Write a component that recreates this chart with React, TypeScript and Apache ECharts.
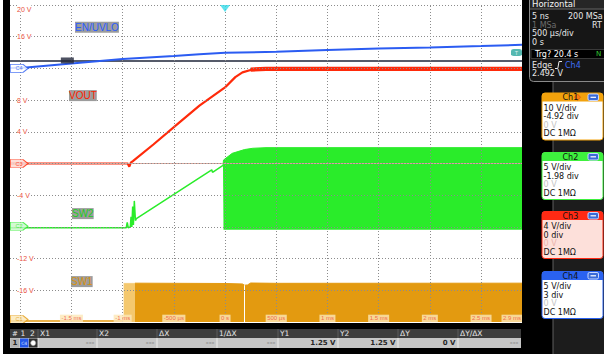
import React, { useEffect, useRef } from "react";
import * as echarts from "echarts";

// ---------- axis / screen settings ----------
const TIME_MIN = -2.1; // ms
const TIME_MAX = 2.9; // ms
const DIV_V = 4; // display axis is in Ch3 volts (4 V/div)

// ---------- channel settings ----------
const chNames = ["Ch1", "Ch2", "Ch3", "Ch4"];
const chScales = [10, 5, 4, 5];
const chOffsets = [-4.92, -1.98, 0, 3];
const chScaleTexts = ["10 V/div", "5 V/div", "4 V/div", "5 V/div"];
const chOffsetTexts = ["-4.92 div", "-1.98 div", "0 div", "3 div"];
const chLevelTexts = ["0 V", "0 V", "0 V", "0 V"];
const chCouplingTexts = ["DC 1MΩ", "DC 1MΩ", "DC 1MΩ", "DC 1MΩ"];
const chMarkerTexts = ["C1", "C2", "C3", "C4"];

// ---------- graticule ----------
const gridTimes = [-2, -1.5, -1, -0.5, 0, 0.5, 1, 1.5, 2, 2.5];
const gridLevels = [20, 16, 12, 8, 4, 0, -4, -8, -12, -16];
const yLabelsShown = [20, 16, 8, 4, -4, -12, -16];
const timeLabelValues = [-1.5, -1, -0.5, 0, 0.5, 1, 1.5, 2, 2.5, 2.9];
const timeLabelTexts = ["-1.5 ms", "-1 ms", "-500 µs", "0 s", "500 µs", "1 ms", "1.5 ms", "2 ms", "2.5 ms", "2.9 ms"];

// ---------- Ch4 EN/UVLO ----------
const enTimes = [-2.1, -1.94, -1.5, -1.0, -0.5, -0.25, 0, 0.5, 1.0, 1.5, 2.0, 2.5, 2.9];
const enVolts = [0.05, 0.13, 0.79, 1.47, 1.95, 2.25, 2.45, 2.62, 2.89, 3.15, 3.31, 3.52, 3.72];
const cursorVolts = 1.25;
const triggerVolts = 2.492;

// ---------- Ch3 VOUT ----------
const voutTimes = [-2.1, -0.95, -0.935, -0.92, -0.9, -0.7, -0.445, -0.25, 0, 0.1, 0.17, 0.25, 0.4, 2.9];
const voutVolts = [0, 0, -0.4, 0.1, 0.3, 2.4, 5.2, 7.3, 9.6, 10.9, 11.5, 11.8, 11.95, 12.0];
const voutRippleTimes = [0.25, 0.4, 2.9];
const voutRippleVolts = [11.85, 11.95, 11.95];

// ---------- Ch2 SW2 ----------
const sw2Times = [-2.1, -0.965, -0.955, -0.945, -0.925, -0.918, -0.91, -0.902, -0.895, -0.886, -0.875, -0.866, -0.13, -0.122, -0.02];
const sw2Volts = [-0.25, -0.25, 0.6, -0.25, -0.1, 1.5, -0.1, 3.1, 0.2, 4.0, 0.9, 1.2, 8.9, 8.5, 9.6];
const sw2BandTimes = [-0.02, -0.015, 0.07, 0.19, 0.27, 0.4, 2.9];
const sw2BandTop = [9.6, 10.45, 11.5, 12.1, 12.3, 12.4, 12.4];
const sw2BandLow = -0.55;

// ---------- Ch1 SW1 ----------
const sw1Times = [-2.1, -0.99];
const sw1Volts = [-0.5, -0.5];
const sw1PaleTimes = [-0.99, -0.88];
const sw1PaleTop = [11.4, 11.4];
const sw1BandTimes = [-0.88, 0.0, 0.17, 0.19, 0.22, 0.25, 0.5, 2.9];
const sw1BandTop = [11.45, 11.35, 11.2, 10.8, 10.9, 11.5, 11.4, 11.45];
const sw1GapTime = 0.19;

const COL = {
  ch1: "#e39a10",
  ch1Pale: "#f4c86e",
  ch2: "#2aec2a",
  ch3: "#ff2a0a",
  ch4: "#2b5cf2",
};

const PLOT_FONT = '"Liberation Sans", Arial, sans-serif';
const PANEL_FONT = '"DejaVu Sans", sans-serif';

const disp = (v: number, ch: number) => (v / chScales[ch] + chOffsets[ch]) * DIV_V;
const pts = (ts: number[], vs: number[], ch: number) => ts.map((t, i) => [t, disp(vs[i], ch)]);

function txt(x: number, y: number, text: string, fill: string, size = 8, opts: any = {}) {
  return {
    type: "text",
    x,
    y,
    z: 30,
    silent: true,
    style: {
      text,
      fill,
      fontSize: size,
      fontFamily: opts.family || PANEL_FONT,
      fontWeight: opts.weight || "normal",
      align: opts.align || "left",
      verticalAlign: "middle",
      backgroundColor: opts.bg,
      padding: opts.padding,
    },
  };
}
function rect(x: number, y: number, w: number, h: number, fill: string, stroke?: string, r: any = 0, z = 25) {
  return { type: "rect", z, silent: true, shape: { x, y, width: w, height: h, r }, style: { fill, stroke, lineWidth: stroke ? 1 : 0 } };
}
function line(x1: number, y1: number, x2: number, y2: number, stroke: string, w = 1, z = 26) {
  return { type: "line", z, silent: true, shape: { x1, y1, x2, y2 }, style: { stroke, lineWidth: w } };
}

const boxTops = [93, 152.5, 211.5, 271.5];
const boxHead = ["#f2a20c", "#3ef03e", "#ff2a14", "#2a62f0"];
const boxBody = ["#ffffff", "#ffffff", "#fde0da", "#ffffff"];
const boxLevelCol = ["#c4c4c4", "#c4c4c4", "#eab4ab", "#c4c4c4"];

function channelBoxes() {
  const els: any[] = [];
  chNames.forEach((name, i) => {
    const t = boxTops[i];
    els.push(rect(542, t, 61, 47, boxBody[i], boxHead[i], 3, 25));
    els.push(rect(542, t, 61, 8.5, boxHead[i], undefined, [3, 3, 0, 0], 26));
    els.push(txt(562.5, t + 4.6, name, "#111", 8));
    if (i === 0) {
      els.push({ type: "polygon", z: 27, silent: true, shape: { points: [[577.5, t + 1], [580.5, t + 4.2], [577.5, t + 7.4], [574.5, t + 4.2]] }, style: { fill: "#ff7a10", stroke: "#d0401a", lineWidth: 0.6 } });
    }
    els.push(rect(588, t + 1, 10.5, 6.5, "#3a6ad8", "#c8d8ff", 1.5, 27));
    els.push(rect(590.5, t + 3.7, 5.5, 1.2, "#ffffff", undefined, 0, 28));
    els.push(txt(543.5, t + 15, chScaleTexts[i], "#111", 8));
    els.push(txt(543.5, t + 23.5, chOffsetTexts[i], "#111", 8));
    els.push(txt(543.5, t + 32, chLevelTexts[i], boxLevelCol[i], 8));
    els.push(txt(543.5, t + 40.5, chCouplingTexts[i], "#111", 8));
  });
  return els;
}

const barSeparators = [38, 97, 157, 217, 278, 338, 398, 458];
const barHeaders = ["X1", "X2", "ΔX", "1/ΔX", "Y1", "Y2", "ΔY", "ΔY/ΔX"];
const barValues = ["---", "---", "---", "---", "1.25 V", "1.25 V", "0 V", "---"];

function bottomBar() {
  const els: any[] = [];
  els.push(rect(10, 329, 511, 9, "#3d3d3d", undefined, 0, 25));
  els.push(rect(10, 338, 511, 10, "#c6c6c6", undefined, 0, 25));
  barSeparators.forEach((x) => {
    els.push(line(x, 329, x, 338, "#5c5c5c"));
    els.push(line(x, 338, x, 348, "#ececec"));
  });
  els.push(txt(12, 333.7, "#", "#e6e6e6", 7));
  els.push(txt(20.5, 333.7, "1", "#e6e6e6", 7.5));
  els.push(txt(30, 333.7, "2", "#e6e6e6", 7.5));
  barHeaders.forEach((h, i) => els.push(txt(barSeparators[i] + 2, 333.7, h, "#e6e6e6", 7.5)));
  const ends = [...barSeparators.slice(1), 521];
  barValues.forEach((v, i) =>
    els.push(txt(ends[i] - 2.5, 343.2, v, v === "---" ? "#8c8c8c" : "#262626", 7, { align: "right", weight: "bold" }))
  );
  els.push(rect(10.5, 338.5, 8.5, 9, "#b0b0b0", undefined, 0, 26));
  els.push(txt(12.5, 343.2, "1", "#222", 7, { weight: "bold" }));
  els.push(rect(20, 338.5, 8.5, 9, "#2456e8", undefined, 0, 26));
  els.push(txt(24.2, 343.2, "C4", "#cfe0ff", 4.5, { align: "center" }));
  els.push(rect(29, 338.5, 8.5, 9, "#303030", undefined, 0, 26));
  els.push({ type: "circle", z: 27, silent: true, shape: { cx: 33.2, cy: 343, r: 2.6 }, style: { fill: "#ffffff", stroke: "#999", lineWidth: 0.6 } });
  return els;
}

function horizontalPanel() {
  const els: any[] = [];
  els.push(rect(529.5, -5, 80, 86.5, "#161616", "#8a8a8a", 4, 24));
  els.push(rect(530, 0, 74, 8.5, "#262626", undefined, 0, 25));
  els.push(line(530, 9, 604, 9, "#6a6a6a"));
  els.push(txt(532, 4.4, "Horizontal", "#f2f2f2", 8.5));
  els.push(txt(532, 16.5, "5 ns", "#e8e8e8", 8));
  els.push(txt(568, 16.5, "200 MSa", "#e8e8e8", 8));
  els.push(txt(532, 25, "1 MSa", "#6c6c6c", 8));
  els.push(txt(592, 25, "RT", "#e8e8e8", 8));
  els.push(txt(532, 33.7, "500 µs/div", "#e8e8e8", 8));
  els.push(txt(532, 42.7, "0 s", "#e8e8e8", 8));
  els.push(rect(531, 49.5, 74, 9, "#000000", "#3a3a3a", 0, 26));
  els.push(txt(535, 54.2, "Trg? 20.4 s", "#ffffff", 8));
  els.push(txt(596, 54.2, "N", "#33cc33", 7));
  els.push(txt(532, 65, "Edge", "#e8e8e8", 8));
  els.push({ type: "polyline", z: 30, silent: true, shape: { points: [[555, 68.5], [557.8, 68.5], [559, 61.5], [562, 61.5]] }, style: { stroke: "#e8e8e8", lineWidth: 1, fill: null } });
  els.push(txt(565, 65, "Ch4", "#3f6ff5", 8));
  els.push(txt(532, 73.3, "2.492 V", "#e8e8e8", 8));
  return els;
}

function frame() {
  return [
    rect(3, 0, 7, 354, "#000000", undefined, 0, 20),
    rect(3, 323, 519, 31, "#000000", undefined, 0, 20),
    rect(522, 0, 31, 354, "#000000", undefined, 0, 20),
    rect(553, 0, 51, 354, "#1c1c1c", undefined, 0, 20),
    line(553, 82, 553, 354, "#5e5e5e", 1, 21),
  ];
}

const nameLabelBg = "#9c9c9c";
function nameLabels() {
  const o = { family: PLOT_FONT, bg: nameLabelBg, padding: [1, 0, 0, 0] };
  return [
    { ...txt(75, 27.3, "EN/UVLO", "#2a5cff", 10, o) },
    { ...txt(69, 95.6, "VOUT", "#ff2200", 10, o) },
    { ...txt(72, 213.6, "SW2", "#1ccc1c", 10, o) },
    { ...txt(71, 281.6, "SW1", "#d8920e", 10, o) },
  ];
}

const markerPath = "path://M0,0 L13,0 L18,4 L13,8 L0,8 Z";
const markerFill = ["#fbe7b6", "#c8f8c8", "#fdd6d0", "#ffffff"];
const markerStroke = [COL.ch1, COL.ch2, COL.ch3, COL.ch4];

function buildOption() {
  const lineBase = { type: "line", showSymbol: false, symbol: "none", silent: true, xAxisIndex: 0, yAxisIndex: 0 };

  const markerItems: any[] = [3, 2, 1, 0].map((ch) => ({
    value: [TIME_MIN, disp(0, ch)],
    symbol: markerPath,
    symbolSize: [18, 8],
    symbolOffset: [9, 0],
    itemStyle: { color: markerFill[ch], borderColor: markerStroke[ch], borderWidth: 1 },
    label: { show: true, position: "inside", formatter: chMarkerTexts[ch], color: markerStroke[ch], fontSize: 5.5, fontFamily: PLOT_FONT },
  }));
  markerItems.push({
    value: [0, 20],
    symbol: "triangle",
    symbolRotate: 180,
    symbolSize: [10, 7],
    symbolOffset: [0, 3.5],
    itemStyle: { color: "#33dbe8" },
  });
  markerItems.push({
    value: [TIME_MAX, disp(triggerVolts, 3)],
    symbol: "roundRect",
    symbolSize: [11, 7],
    symbolOffset: [-5.5, 0],
    itemStyle: { color: "#2aa69c" },
    label: { show: true, position: "inside", formatter: "T", color: "#ffffff", fontSize: 5.5, fontFamily: PLOT_FONT },
  });
  markerItems.push({
    value: [-1.54, disp(cursorVolts, 3)],
    symbol: "rect",
    symbolSize: [13, 6],
    itemStyle: { color: "#20263a" },
  });

  const series: any[] = [
    {
      ...lineBase,
      name: "SW1 base",
      z: 2,
      data: pts(sw1Times, sw1Volts, 0),
      lineStyle: { color: COL.ch1, width: 1.5 },
      markLine: {
        silent: true,
        symbol: ["none", "none"],
        label: { show: false },
        lineStyle: { color: "#d8a69c", width: 1, type: "solid" },
        data: [{ yAxis: disp(0, 2) }],
      },
    },
    {
      ...lineBase,
      name: "SW1 pale",
      z: 2,
      data: pts(sw1PaleTimes, sw1PaleTop, 0),
      lineStyle: { color: COL.ch1Pale, width: 0.5 },
      areaStyle: { color: COL.ch1Pale, opacity: 1, origin: "start" },
    },
    {
      ...lineBase,
      name: "SW1",
      z: 2,
      data: pts(sw1BandTimes, sw1BandTop, 0),
      lineStyle: { color: COL.ch1, width: 1 },
      areaStyle: { color: COL.ch1, opacity: 1, origin: "start" },
      markLine: {
        silent: true,
        symbol: ["none", "none"],
        label: { show: false },
        lineStyle: { color: "#ffffff", width: 1, type: "solid" },
        data: [[{ coord: [sw1GapTime, -20] }, { coord: [sw1GapTime, disp(10.8, 0)] }]],
      },
    },
    {
      ...lineBase,
      name: "SW2",
      z: 3,
      data: pts(sw2Times, sw2Volts, 1),
      lineStyle: { color: COL.ch2, width: 1.5 },
    },
    {
      ...lineBase,
      name: "SW2 band",
      z: 3,
      data: pts(sw2BandTimes, sw2BandTop, 1),
      lineStyle: { color: COL.ch2, width: 1 },
      areaStyle: { color: COL.ch2, opacity: 1, origin: disp(sw2BandLow, 1) },
    },
    {
      ...lineBase,
      name: "VOUT",
      z: 4,
      data: pts(voutTimes, voutVolts, 2),
      lineStyle: { color: COL.ch3, width: 2.2 },
    },
    {
      ...lineBase,
      name: "VOUT ripple",
      z: 4,
      data: pts(voutRippleTimes, voutRippleVolts, 2),
      lineStyle: { color: COL.ch3, width: 4.2 },
    },
    {
      ...lineBase,
      name: "EN/UVLO",
      z: 5,
      data: pts(enTimes, enVolts, 3),
      lineStyle: { color: COL.ch4, width: 2 },
      markLine: {
        silent: true,
        symbol: ["none", "none"],
        label: { show: false },
        lineStyle: { color: "#1e2438", width: 1.5, type: "solid" },
        data: [{ yAxis: disp(cursorVolts, 3) }],
      },
    },
    {
      ...lineBase,
      name: "graticule",
      z: 6,
      data: [],
      markLine: {
        silent: true,
        symbol: ["none", "none"],
        label: { show: false },
        lineStyle: { color: "#8c8c8c", width: 1, type: [1, 2] },
        data: [...gridTimes.map((t) => ({ xAxis: t })), ...gridLevels.map((v) => ({ yAxis: v }))],
      },
    },
    {
      type: "scatter",
      name: "time labels",
      z: 8,
      silent: true,
      symbolSize: 1,
      itemStyle: { color: "rgba(0,0,0,0)" },
      data: timeLabelValues.map((t, i) => ({
        value: [t, -19.55],
        label: i === timeLabelValues.length - 1 ? { offset: [-10, 0] } : undefined,
      })),
      label: {
        show: true,
        position: "inside",
        formatter: (p: any) => timeLabelTexts[p.dataIndex],
        color: "#ee4b3b",
        fontSize: 6,
        fontFamily: PLOT_FONT,
        backgroundColor: "#fde7b6",
        padding: [1, 1.5, 0.5, 1.5],
      },
    },
    {
      type: "scatter",
      name: "markers",
      z: 9,
      silent: true,
      data: markerItems,
    },
  ];

  return {
    animation: false,
    backgroundColor: "#ffffff",
    grid: { left: 10, top: 5, width: 512, height: 317, containLabel: false, outerBoundsMode: "none" },
    xAxis: { type: "value", min: TIME_MIN, max: TIME_MAX, show: false },
    yAxis: {
      type: "value",
      min: -20,
      max: 20,
      interval: 4,
      z: 7,
      axisLine: { show: false },
      axisTick: { show: false },
      splitLine: { show: false },
      axisLabel: {
        inside: true,
        margin: 7,
        color: "#e8503c",
        fontSize: 7,
        fontFamily: PLOT_FONT,
        backgroundColor: "#ffffff",
        formatter: (v: number) => {
          if (!yLabelsShown.includes(v)) return "";
          return v === 20 ? "{top|20 V}" : `${v} V`;
        },
        rich: { top: { padding: [8, 0, 0, 0], color: "#e8503c", fontSize: 7, fontFamily: PLOT_FONT } },
      },
    },
    series,
    graphic: { elements: [...frame(), ...horizontalPanel(), ...channelBoxes(), ...bottomBar(), ...nameLabels()] },
  };
}

export default function App() {
  const ref = useRef<HTMLDivElement>(null);
  useEffect(() => {
    if (!ref.current) return;
    const chart = echarts.init(ref.current, undefined, { renderer: "svg" });
    chart.setOption(buildOption() as any);
    return () => chart.dispose();
  }, []);
  return <div ref={ref} style={{ position: "fixed", left: 0, top: 0, width: 604, height: 354 }} />;
}
